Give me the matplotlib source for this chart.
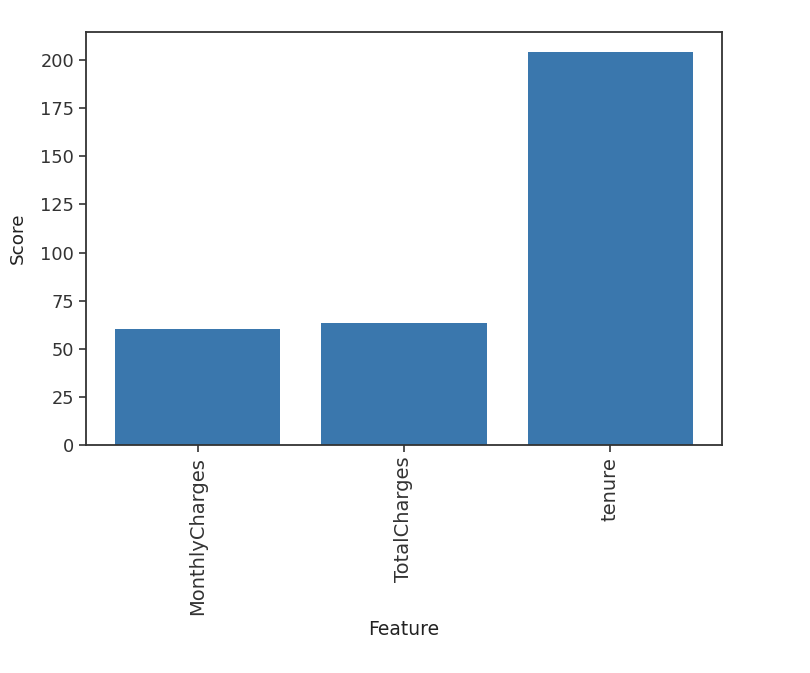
import matplotlib
matplotlib.use("Agg")
import matplotlib.pyplot as plt

features = ["MonthlyCharges", "TotalCharges", "tenure"]
scores = [60.3, 63.4, 204.4]

plt.rcParams['font.size'] = 12.8
fig = plt.figure(figsize=(8.10, 6.73), dpi=100)
ax = fig.add_axes([86/810, 1 - 445/673, (722-86)/810, (445-32)/673])
ax.bar(features, scores, color="#3a77ad", width=0.8)
ax.set_xlabel("Feature", labelpad=4, fontsize=13.5, color="#222222")
ax.set_ylabel("Score", fontsize=13.2, color="#222222", labelpad=10)
ax.set_yticks(range(0, 201, 25))
ax.tick_params(axis='x', labelrotation=90, labelsize=14, length=5, width=1.2, colors="#333333")
ax.tick_params(axis='y', labelsize=12.8, length=5, width=1.2, colors="#333333")
for s in ax.spines.values():
    s.set_linewidth(1.3)
    s.set_color("#333333")
fig.savefig("out.png", dpi=100)
